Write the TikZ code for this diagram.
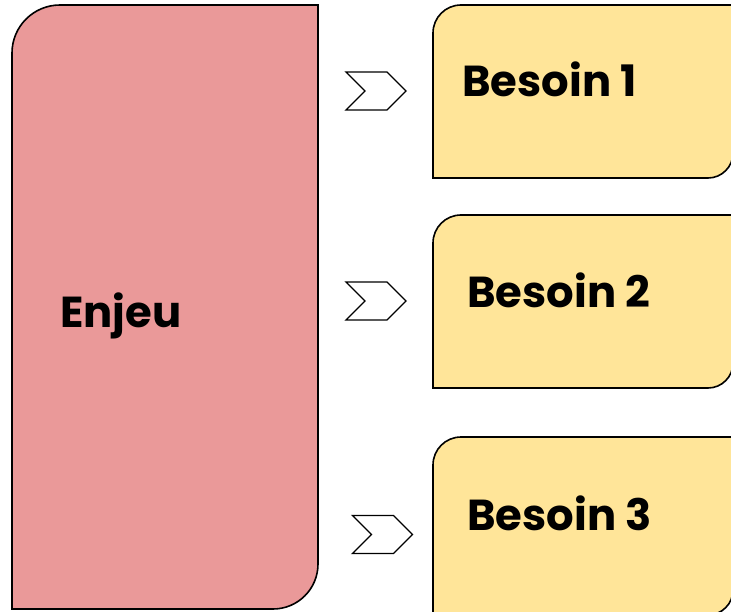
\documentclass[tikz,border=0pt]{standalone}
\usepackage{fontspec}
\setmainfont{Poppins}
\usetikzlibrary{shapes.symbols}
\definecolor{enjeucolor}{HTML}{EA9999}
\definecolor{besoincolor}{HTML}{FFE599}

\begin{document}
\begin{tikzpicture}[x=0.75pt, y=0.75pt,
		box/.style = {draw=black, line width=1.2pt},
		txt/.style = {anchor=base west, inner sep=0pt, font=\bfseries\fontsize{32.5}{38}\selectfont},
		chevron/.style = {signal, signal from=west, signal to=east, draw=black, line width=1pt, fill=white, minimum width=45pt, minimum height=28.5pt, inner sep=0pt}
		]
		\useasboundingbox (0,0) rectangle (731,611);
		\clip (0,0) rectangle (731,611);

		\draw[box, fill=enjeucolor] (12,2) -- (12,558) arc[start angle=180, end angle=90, radius=48]
			-- (318,606) -- (318,47) arc[start angle=0, end angle=-90, radius=45] -- cycle;
		\foreach \top/\bot in {606/433, 396/223, 174/-4}
			\draw[box, fill=besoincolor] (433,\bot) -- (433,\top-28) arc[start angle=180, end angle=90, radius=28]
				-- (733,\top) -- (733,\bot+25) arc[start angle=0, end angle=-90, radius=25] -- cycle;

		\node (enjeu) [txt] at (60,284) {Enjeu};
		\node (besoin1) [txt] at (462,514) {Besoin 1};
		\node (besoin2) [txt] at (467,303) {Besoin 2};
		\node (besoin3) [txt] at (467,81) {Besoin 3};

		\node (chev1) [chevron] at (376,520) {};
		\node (chev2) [chevron] at (376,310) {};
		\node (chev3) [chevron] at (382.5,76.5) {};
	\end{tikzpicture}
\end{document}
